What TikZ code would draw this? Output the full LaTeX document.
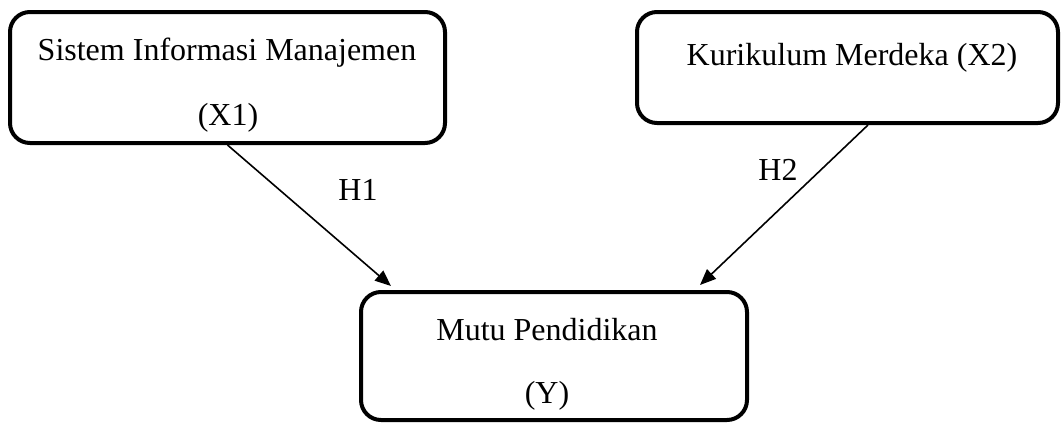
\documentclass[tikz,border=0pt]{standalone}
\usepackage{fontspec}
\setmainfont{Liberation Serif}
\usetikzlibrary{arrows.meta}
\begin{document}
\begin{tikzpicture}[x=1pt,y=-1pt,
  box/.style={draw=black,line width=4pt,rounded corners=20pt,inner sep=0pt},
  lbl/.style={font=\fontsize{32}{38}\selectfont,inner sep=0pt},
  conn/.style={line width=1.6pt,-{Triangle[length=16pt,width=13pt]}}]
\useasboundingbox (0,0) rectangle (1061,423);
\node[box,minimum width=435pt,minimum height=131pt] (b1) at (227.5,77.5) {};
\node[box,minimum width=421pt,minimum height=111pt] (b2) at (847.5,67.5) {};
\node[box,minimum width=386pt,minimum height=128pt] (b3) at (554,356) {};
\node[lbl,anchor=base] (t1a) at (227,60) {Sistem Informasi Manajemen};
\node[lbl,anchor=base] (t1b) at (228,125) {(X1)};
\node[lbl,anchor=base] (t2) at (852,65) {Kurikulum Merdeka (X2)};
\node[lbl,anchor=base] (t3a) at (547,340) {Mutu Pendidikan};
\node[lbl,anchor=base] (t3b) at (547,403) {(Y)};
\coordinate (s2) at ([xshift=233pt]b2.south west);
\coordinate (e1) at ([xshift=32pt,yshift=4pt]b3.north west);
\coordinate (e2) at ([xshift=341pt,yshift=5pt]b3.north west);
\draw[conn] (b1.south) -- (e1);
\draw[conn] (s2) -- (e2);
\node[lbl] (h1) at (358,190) {H1};
\node[lbl] (h2) at (778,170) {H2};
\end{tikzpicture}
\end{document}
